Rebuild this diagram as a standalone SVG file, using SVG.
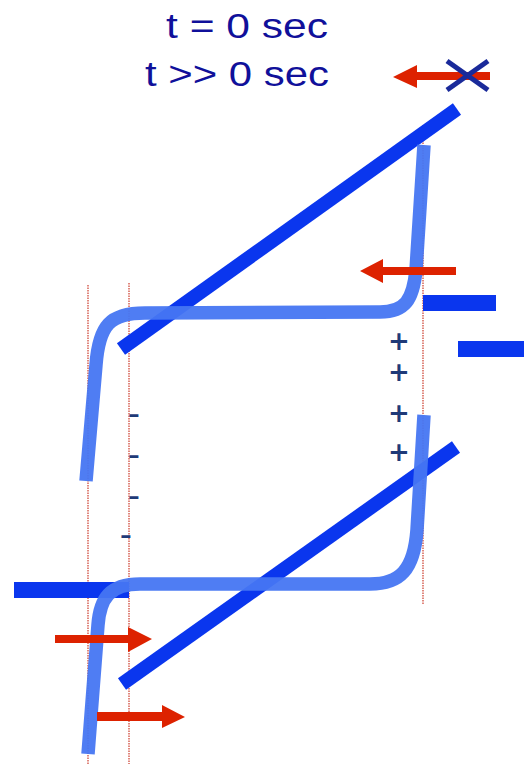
<svg xmlns="http://www.w3.org/2000/svg" width="524" height="764" viewBox="0 0 524 764">
<style>
.title{font-family:"Liberation Sans",Arial,sans-serif;font-size:35px;fill:#10109a}
.sign{font-family:"DejaVu Sans",sans-serif;fill:#1f3a78;text-anchor:middle}
.guide{stroke:#cc3a2a;stroke-width:1.2;stroke-dasharray:1.5 1;fill:none}
.bar{fill:#0a36ee}
.diag{stroke:#0a36ee;stroke-width:14;fill:none}
.curve{stroke:#4676f2;stroke-width:13.5;fill:none;opacity:0.95}
.arrow{fill:#dd2200}
.cross{stroke:#1a2a9a;stroke-width:5}
</style>
<rect width="524" height="764" fill="#ffffff"/>
<g id="titles">
<text class="title" x="166" y="38" textLength="162" lengthAdjust="spacingAndGlyphs">t = 0 sec</text>
<text class="title" x="145" y="86" textLength="184" lengthAdjust="spacingAndGlyphs">t &gt;&gt; 0 sec</text>
</g>
<g id="guides">
<line class="guide" x1="88" y1="285" x2="88" y2="764"/>
<line class="guide" x1="129" y1="283" x2="129" y2="764"/>
<line class="guide" x1="423" y1="125" x2="423" y2="605"/>
</g>
<g id="bars">
<rect class="bar" x="423" y="295" width="73" height="16"/>
<rect class="bar" x="458" y="341" width="66" height="16"/>
<rect class="bar" x="14" y="582" width="115" height="16"/>
</g>
<g id="diagonals">
<line class="diag" x1="121" y1="349" x2="457" y2="109"/>
<line class="diag" x1="122" y1="684" x2="456" y2="447"/>
</g>
<g id="curves">
<path class="curve" d="M 86 481 L 96 365 C 99 325 110 313 145 313 L 380 312 C 405 312 413 300 416 270 L 424 145"/>
<path class="curve" d="M 424 415 L 417 530 C 414 570 400 584 370 584 L 140 584 C 110 584 100 598 98 625 L 88 754"/>
</g>
<g id="charges">
<text class="sign" font-size="26" font-weight="bold"><tspan x="399" y="350">+</tspan><tspan x="399" y="381">+</tspan><tspan x="399" y="422">+</tspan><tspan x="399" y="461">+</tspan></text>
<text class="sign" font-size="34"><tspan x="134" y="425">-</tspan><tspan x="134" y="466">-</tspan><tspan x="134" y="507">-</tspan><tspan x="126" y="546">-</tspan></text>
</g>
<g id="arrows">
<polygon class="arrow" points="490,72 417,72 417,65 393,77 417,88 417,80 490,80"/>
<polygon class="arrow" points="456,267 383,267 383,259 360,271 383,283 383,275 456,275"/>
<polygon class="arrow" points="55,635 128,635 128,627 152,639 128,652 128,643 55,643"/>
<polygon class="arrow" points="97,712 162,712 162,705 185,717 162,728 162,721 97,721"/>
</g>
<g id="cross">
<line class="cross" x1="447" y1="61" x2="488" y2="90"/>
<line class="cross" x1="447" y1="90" x2="488" y2="61"/>
</g>
</svg>
